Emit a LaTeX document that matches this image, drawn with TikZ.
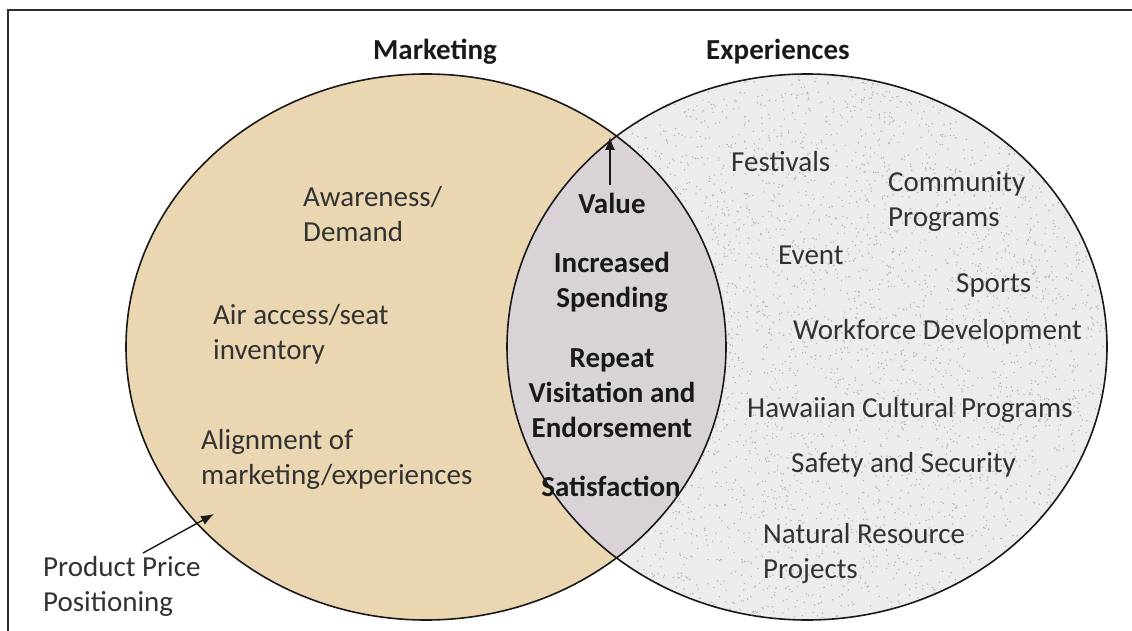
\documentclass[tikz,border=0pt]{standalone}
\usepackage{fontspec}
\setmainfont{Carlito}
\usetikzlibrary{arrows.meta}

\definecolor{framecol}{RGB}{45,45,45}
\definecolor{mktfill}{RGB}{234,214,176}
\definecolor{expfill}{RGB}{236,236,236}
\definecolor{speckcol}{RGB}{178,178,178}
\definecolor{lensfill}{RGB}{217,211,215}
\definecolor{inkcol}{RGB}{25,25,25}
\definecolor{softink}{RGB}{50,50,50}

\tikzset{
  outline/.style={draw=inkcol, line width=1.6pt},
  txt/.style={font=\fontsize{29}{35}\selectfont, inner sep=0pt, text=softink, align=left, anchor=base west},
  midtxt/.style={font=\fontsize{29}{35}\selectfont\bfseries, inner sep=0pt, text=inkcol, align=center, anchor=base},
  title/.style={font=\fontsize{29}{35}\selectfont\bfseries, inner sep=0pt, text=inkcol, anchor=base},
  pointer/.style={draw=inkcol, line width=1.4pt, -{Latex[length=13pt,width=10pt]}}
}

\begin{document}
\begin{tikzpicture}[x=1pt,y=-1pt]
\useasboundingbox (0,0) rectangle (1132,631);
\fill[white] (0,0) rectangle (1132,631);

% frame (top and left edges)
\draw[framecol, line width=1.6pt] (8,631) -- (8,10) -- (1132,10);

% Experiences circle: stippled grey
\fill[expfill] (807,347) ellipse [x radius=300pt, y radius=273pt];
\begin{scope}
  \clip (807,347) ellipse [x radius=300pt, y radius=273pt];
  \pgfmathsetseed{11}
  \foreach \i in {1,...,5000}{
    \fill[speckcol] ({507+600*rnd},{74+546*rnd}) circle (0.8pt);
  }
\end{scope}

% Marketing circle: tan
\fill[mktfill] (426,347) ellipse [x radius=300pt, y radius=273pt];

% overlap lens
\begin{scope}
  \clip (426,347) ellipse [x radius=300pt, y radius=273pt];
  \fill[lensfill] (807,347) ellipse [x radius=300pt, y radius=273pt];
\end{scope}

% outlines
\draw[outline] (426,347) ellipse [x radius=300pt, y radius=273pt];
\draw[outline] (807,347) ellipse [x radius=300pt, y radius=273pt];

% titles
\node[title] (mkt) at (435,60) {Marketing};
\node[title] (exp) at (778,60) {Experiences};

% Marketing items (multi-line nodes sit on their last baseline)
\node[txt] (aware) at (303,241) {Awareness/\\Demand};
\node[txt] (air)   at (213,359) {Air access/seat\\inventory};
\node[txt] (align) at (201,484) {Alignment of\\marketing/experiences};
\node[txt] (ppp)   at (43,611)  {Product Price\\Positioning};

% overlap items
\node[midtxt] (value) at (612,214) {Value};
\node[midtxt] (spend) at (612,307) {Increased\\Spending};
\node[midtxt] (repeat) at (612,437) {Repeat\\Visitation and\\Endorsement};
\node[midtxt] (satis) at (611,496) {Satisfaction};

% Experiences items
\node[txt] (fest)  at (731,172) {Festivals};
\node[txt] (comm)  at (888,226) {Community\\Programs};
\node[txt] (event) at (778,264) {Event};
\node[txt] (sport) at (956,292) {Sports};
\node[txt] (work)  at (793,339) {Workforce Development};
\node[txt] (haw)   at (747,417) {Hawaiian Cultural Programs};
\node[txt] (safe)  at (791,472) {Safety and Security};
\node[txt] (nat)   at (763,578) {Natural Resource\\Projects};

% pointers
\coordinate (top) at (610,137);
\coordinate (pptail) at (143,553);
\coordinate (pptip) at (214,514);
\draw[pointer] ([yshift=8pt]value.north -| top) -- (top);
\draw[pointer] (pptail) -- (pptip);
\end{tikzpicture}
\end{document}
